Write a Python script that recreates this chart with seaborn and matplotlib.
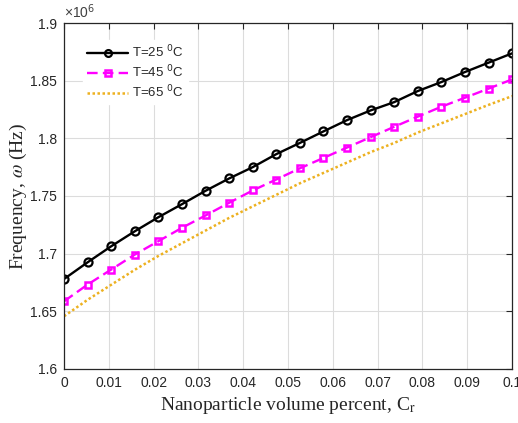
import numpy as np
import pandas as pd
import matplotlib
matplotlib.use("Agg")
import matplotlib.pyplot as plt
from matplotlib.font_manager import FontProperties
from matplotlib.ticker import FuncFormatter
import seaborn as sns

# Nanoparticle volume fraction (20 samples from 0 to 0.1)
volume_percent = np.linspace(0.0, 0.1, 20)

# Natural frequency in units of 1e6 Hz
freq_T25 = [1.678, 1.6925, 1.7064, 1.7194, 1.7316, 1.7429, 1.7545, 1.7652, 1.775, 1.7863,
            1.796, 1.806, 1.8158, 1.8242, 1.8314, 1.841, 1.8488, 1.8575, 1.8656, 1.8737]
freq_T45 = [1.6587, 1.6732, 1.6862, 1.6992, 1.7108, 1.7224, 1.7331, 1.7441, 1.7548, 1.7643,
            1.774, 1.783, 1.792, 1.801, 1.810, 1.8188, 1.8274, 1.8352, 1.8431, 1.8511]
freq_T65 = [1.6457, 1.660, 1.673, 1.686, 1.698, 1.709, 1.720, 1.731, 1.741, 1.751,
            1.761, 1.770, 1.779, 1.788, 1.796, 1.805, 1.813, 1.821, 1.829, 1.8366]

labels = ["T=25 $^{0}$C", "T=45 $^{0}$C", "T=65 $^{0}$C"]
x_ticks = [0, 0.01, 0.02, 0.03, 0.04, 0.05, 0.06, 0.07, 0.08, 0.09, 0.1]
y_ticks = [1.6, 1.65, 1.7, 1.75, 1.8, 1.85, 1.9]

series = [freq_T25, freq_T45, freq_T65]

sns.set_style("white")
plt.rcParams["mathtext.fontset"] = "stix"

fig = plt.figure(figsize=(5.18, 4.23), dpi=100)
ax = fig.add_axes([0.1236, 0.1277, 0.865, 0.8179])

styles = [
    dict(color="black", linestyle="-", marker="o", markersize=5.8,
         markerfacecolor="none", markeredgecolor="black", markeredgewidth=1.6, linewidth=1.7),
    dict(color="#FF00FF", linestyle=(0, (4.5, 2.2)), marker="s", markersize=4.6,
         markerfacecolor="none", markeredgecolor="#FF00FF", markeredgewidth=1.8, linewidth=1.7),
    dict(color="#EDB120", linestyle=(0, (1, 1)), marker="None", linewidth=1.8),
]
for lab, vals, st in zip(labels, series, styles):
    sub = pd.DataFrame({"Cr": volume_percent, "freq": vals})
    sns.lineplot(data=sub, x="Cr", y="freq", ax=ax, label=lab, color=st["color"])
    line = ax.lines[-1]
    line.set(**st)

ax.set_xlim(0, 0.1)
ax.set_ylim(1.6, 1.9)
ax.set_xticks(x_ticks)
ax.set_yticks(y_ticks)
fmt = FuncFormatter(lambda v, p: "%g" % round(v, 4))
ax.xaxis.set_major_formatter(fmt)
ax.yaxis.set_major_formatter(fmt)

ax.grid(True, color="#dcdcdc", linewidth=0.8)
ax.set_axisbelow(True)
for s in ax.spines.values():
    s.set_color("#262626")
    s.set_linewidth(0.9)
ax.tick_params(direction="in", length=4, width=0.8, colors="#262626",
               top=True, right=True, labelsize=10, pad=5)
for t in ax.get_xticklabels() + ax.get_yticklabels():
    t.set_fontfamily("Liberation Sans")

ax.set_xlabel("Nanoparticle volume percent, C$_{\\mathrm{r}}$",
              fontfamily="Liberation Serif", fontsize=14, color="#262626", labelpad=4)
ax.set_ylabel("Frequency, $\\omega$ (Hz)",
              fontfamily="Liberation Serif", fontsize=14, color="#262626", labelpad=1)

ax.text(0.0, 1.005, "\u00d710$^{6}$", transform=ax.transAxes, ha="left", va="bottom",
        fontsize=10, color="#404040", fontfamily="Liberation Sans",
        math_fontfamily="dejavusans")

leg_font = FontProperties(family="Liberation Sans", size=9.5, math_fontfamily="dejavusans")
leg = ax.legend(loc="upper left", bbox_to_anchor=(0.028, 0.97), prop=leg_font,
                frameon=True, facecolor="white", edgecolor="white", framealpha=1,
                handlelength=3.1, handletextpad=0.3, labelspacing=0.25, borderpad=0.3,
                markerscale=0.85)
for t in leg.get_texts():
    t.set_color("#262626")

fig.savefig("out.png", dpi=100)
